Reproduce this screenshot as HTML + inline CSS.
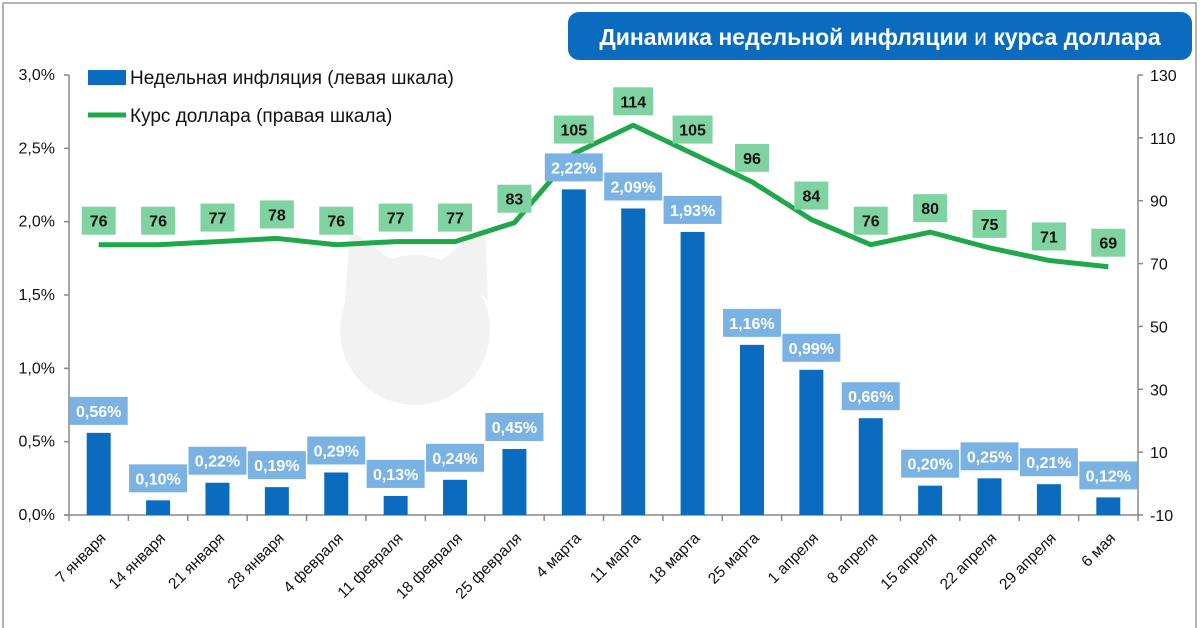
<!DOCTYPE html>
<html><head><meta charset="utf-8">
<style>
html,body{margin:0;padding:0;background:#fff;}
svg{display:block;font-family:"Liberation Sans",Calibri,sans-serif;}
</style></head>
<body>
<svg id="chart" width="1200" height="628" viewBox="0 0 1200 628" xmlns="http://www.w3.org/2000/svg">
  <rect x="3" y="3" width="1193" height="640" fill="#fff" stroke="#9a9a9a" stroke-width="1.5"/>
  <circle cx="415" cy="330" r="75" fill="#f2f2f2"/>
  <polygon points="345,300 350,230 395,262" fill="#f2f2f2"/>
  <polygon points="440,262 485,225 488,300" fill="#f2f2f2"/>
  <rect x="568" y="12" width="624" height="48" rx="11" fill="#0b6cbf"/>
  <text x="880" y="45" text-anchor="middle" fill="#fff" font-size="23" font-weight="bold">Динамика недельной инфляции <tspan font-weight="normal">и</tspan> курса доллара</text>
  <g>
    <rect x="88" y="70" width="38" height="15" fill="#0b6cbf"/>
    <text x="130" y="84" font-size="19" fill="#111">Недельная инфляция (левая шкала)</text>
    <line x1="88" y1="115" x2="126" y2="115" stroke="#1ea84a" stroke-width="5"/>
    <text x="130" y="122" font-size="19" fill="#111">Курс доллара (правая шкала)</text>
  </g>
  <g id="axes"></g>
  <g id="bars"></g>
  <g id="line"></g>
  <g id="labels"></g>
</svg>
<script>
const categories = ["7 января","14 января","21 января","28 января","4 февраля","11 февраля","18 февраля","25 февраля","4 марта","11 марта","18 марта","25 марта","1 апреля","8 апреля","15 апреля","22 апреля","29 апреля","6 мая"];
const inflation = [0.56,0.10,0.22,0.19,0.29,0.13,0.24,0.45,2.22,2.09,1.93,1.16,0.99,0.66,0.20,0.25,0.21,0.12];
const dollar = [76,76,77,78,76,77,77,83,105,114,105,96,84,76,80,75,71,69];
const leftTicks = [0,0.5,1,1.5,2,2.5,3];
const leftTickLabels = ["0,0%","0,5%","1,0%","1,5%","2,0%","2,5%","3,0%"];
const rightTicks = [-10,10,30,50,70,90,110,130];

const NS="http://www.w3.org/2000/svg";
const X0=69, X1=1138, Y0=515, Y1=75;
const step=(X1-X0)/categories.length;
const xc=i=>X0+step*(i+0.5);
const yL=v=>Y0-(v-0)/(3-0)*(Y0-Y1);
const yR=v=>Y0-(v+10)/(140)*(Y0-Y1);
function mk(tag,attrs,parent,txt){const e=document.createElementNS(NS,tag);for(const k in attrs)e.setAttribute(k,attrs[k]);if(txt!==undefined)e.textContent=txt;parent.appendChild(e);return e;}
const axes=document.getElementById('axes'),bars=document.getElementById('bars'),lineG=document.getElementById('line'),labels=document.getElementById('labels');

let e;
e=mk('line',{x1:X0,y1:Y1,x2:X0,y2:Y0,stroke:'#888','stroke-width':1.5},axes);


e=mk('line',{x1:X1,y1:Y1,x2:X1,y2:Y0,stroke:'#888','stroke-width':1.5},axes);


e=mk('line',{x1:X0-5,y1:Y0,x2:X1,y2:Y0,stroke:'#888','stroke-width':1.5},axes);


leftTicks.forEach((v,i)=>{
  const y=yL(v);
  mk('line',{x1:X0-5,y1:y,x2:X0,y2:y,stroke:'#888','stroke-width':1.5},axes);
  const t=mk('text',{x:X0-14,y:y+5,'text-anchor':'end','font-size':16,fill:'#111'},axes,leftTickLabels[i]);
  
  
});
rightTicks.forEach(v=>{
  const y=yR(v);
  mk('line',{x1:X1,y1:y,x2:X1+5,y2:y,stroke:'#888','stroke-width':1.5},axes);
  const t=mk('text',{x:X1+12,y:y+6,'text-anchor':'start','font-size':16,fill:'#111'},axes,String(v));
  
  
});
for(let i=0;i<=categories.length;i++){
  const x=X0+step*i;
  mk('line',{x1:x,y1:Y0,x2:x,y2:Y0+6,stroke:'#888','stroke-width':1.5},axes);
}
categories.forEach((c,i)=>{
  const x=xc(i)+8,y=Y0+24;
  const t=mk('text',{x:x,y:y,'text-anchor':'end','font-size':15.5,fill:'#111',transform:`rotate(-45 ${x} ${y})`},axes,c);
  
  
});
inflation.forEach((v,i)=>{
  const y=yL(v);
  const r=mk('rect',{x:xc(i)-12,y:y,width:24,height:Y0-y,fill:'#0b6cbf'},bars);
  
  
  const by=y-36;
  const b=mk('rect',{x:xc(i)-29,y:by,width:58,height:28,fill:'#7ab3e3'},labels);
  
  
  const t=mk('text',{x:xc(i),y:by+20,'text-anchor':'middle','font-size':16,'font-weight':'bold',fill:'#fff'},labels,v.toFixed(2).replace('.',',')+'%');
  
  
});
const pts=dollar.map((v,i)=>xc(i)+','+yR(v)).join(' ');
e=mk('polyline',{points:pts,fill:'none',stroke:'#1ea84a','stroke-width':5,'stroke-linejoin':'round'},lineG);


dollar.forEach((v,i)=>{
  const y=yR(v)-38;
  const w=String(v).length>2?40:34;
  const b=mk('rect',{x:xc(i)-w/2,y:y,width:w,height:28,fill:'#7fd3a0'},labels);
  
  
  const t=mk('text',{x:xc(i),y:y+20,'text-anchor':'middle','font-size':16,'font-weight':'bold',fill:'#111'},labels,String(v));
  
  
});
</script>
</body></html>
